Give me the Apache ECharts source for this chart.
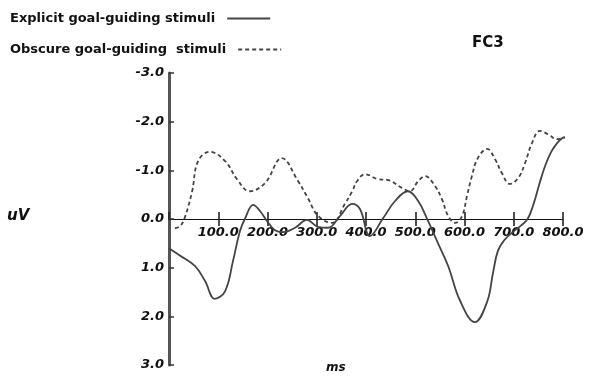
<!DOCTYPE html>
<html><head><meta charset="utf-8">
<script src="https://cdn.jsdelivr.net/npm/echarts@6/dist/echarts.min.js"></script>
<style>html,body{margin:0;padding:0;background:#fff}#c{width:591px;height:376px}</style>
</head><body><div id="c"></div>
<script>
const seriesNames = ['Explicit goal-guiding stimuli', 'Obscure goal-guiding  stimuli'];
const explicitTime  = [0, 22, 53, 73, 93, 114, 130, 144, 154, 171, 185, 199, 215, 231, 256, 280, 302, 323, 347, 372, 388, 408, 435, 459, 485, 506, 526, 544, 567, 591, 621, 646, 658, 668, 682, 698, 714, 728, 740, 752, 764, 776, 788, 798, 804];
const explicitValue = [0.6, 0.75, 0.97, 1.27, 1.64, 1.48, 0.86, 0.25, 0.0, -0.29, -0.16, 0.04, 0.23, 0.27, 0.18, 0.02, 0.16, 0.18, -0.06, -0.31, -0.2, 0.35, -0.02, -0.37, -0.57, -0.37, 0.04, 0.45, 0.97, 1.68, 2.12, 1.7, 1.1, 0.65, 0.42, 0.27, 0.14, 0.0, -0.3, -0.72, -1.1, -1.38, -1.56, -1.66, -1.68];
const obscureTime  = [12, 22, 31, 47, 59, 83, 114, 138, 164, 195, 229, 262, 282, 303, 331, 357, 372, 382, 398, 424, 445, 473, 489, 506, 520, 540, 554, 567, 581, 595, 605, 615, 627, 646, 662, 676, 692, 709, 723, 737, 753, 770, 788, 804];
const obscureValue = [0.19, 0.15, 0.0, -0.57, -1.19, -1.38, -1.19, -0.82, -0.57, -0.74, -1.25, -0.78, -0.43, -0.06, 0.08, -0.31, -0.57, -0.78, -0.92, -0.82, -0.8, -0.64, -0.57, -0.78, -0.88, -0.68, -0.41, -0.06, 0.08, -0.06, -0.47, -0.88, -1.25, -1.44, -1.23, -0.94, -0.72, -0.84, -1.15, -1.56, -1.81, -1.74, -1.64, -1.68];
const xTickMin = 0, xTickMax = 800, xTickStep = 100;
const yTickMin = -3, yTickMax = 3, yTickStep = 1;
const channelLabel = 'FC3', yName = 'uV', xName = 'ms';

const pair = (t, v) => t.map((x, i) => [x, v[i]]);
const lblFont = {fontFamily: 'DejaVu Sans', fontWeight: 'bold', fontStyle: 'italic', fontSize: 13, color: '#111'};
// full plotting grid; upper half (ends at value 0) and lower half (starts at value 0) carry the crossing x axis
const H = 376, gTop = 73, gBottom = 11, zeroY = gTop + (H - gTop - gBottom) / 2;
const gridFull  = {left: 169, right: 28, top: gTop, bottom: gBottom, containLabel: false, outerBoundsMode: 'none'};
const gridUpper = {left: 169, right: 28, top: gTop, bottom: H - zeroY, containLabel: false, outerBoundsMode: 'none'};
const gridLower = {left: 169, right: 28, top: zeroY, bottom: gBottom, containLabel: false, outerBoundsMode: 'none'};
const legendBase = {
  orient: 'horizontal', left: 10, align: 'right', padding: 0,
  itemWidth: 43, itemHeight: 14,
  itemStyle: {opacity: 0},
  textStyle: {fontFamily: 'DejaVu Sans', fontWeight: 'bold', fontSize: 13, color: '#111', padding: [0, 7, 0, 0]}
};
const hiddenY = (gi, mn, mx) => ({gridIndex: gi, type: 'value', inverse: true, min: mn, max: mx, show: false,
  axisLine: {show: false, onZero: false}, axisTick: {show: false}, axisLabel: {show: false}, splitLine: {show: false}});
const chart = echarts.init(document.getElementById('c'));
chart.setOption({
  animation: false,
  backgroundColor: '#fff',
  grid: [gridFull, gridUpper, gridLower],
  legend: [
    Object.assign({top: 12, data: [seriesNames[0]]}, legendBase),
    Object.assign({top: 43, data: [seriesNames[1]]}, legendBase)
  ],
  xAxis: [{
    gridIndex: 0, type: 'value', min: xTickMin, max: xTickMax, interval: xTickStep, show: false,
    axisLine: {show: false, onZero: false}, axisTick: {show: false}, axisLabel: {show: false}, splitLine: {show: false}
  }, {
    gridIndex: 1, type: 'value', min: xTickMin, max: xTickMax, interval: xTickStep, position: 'bottom',
    axisLine: {show: true, onZero: false, lineStyle: {color: '#111', width: 1.2}},
    axisTick: {show: true, inside: false, length: 7, lineStyle: {color: '#222', width: 1.6}},
    axisLabel: Object.assign({margin: 7, showMinLabel: false, formatter: v => v.toFixed(1)}, lblFont),
    splitLine: {show: false}
  }, {
    gridIndex: 2, type: 'value', min: xTickMin, max: xTickMax, interval: xTickStep, position: 'top',
    axisLine: {show: false, onZero: false},
    axisTick: {show: true, inside: false, length: 7, lineStyle: {color: '#222', width: 1.6}},
    axisLabel: {show: false}, splitLine: {show: false}
  }],
  yAxis: [{
    gridIndex: 0, type: 'value', inverse: true, min: yTickMin, max: yTickMax, interval: yTickStep,
    axisLine: {show: true, onZero: false, lineStyle: {color: '#555', width: 3}},
    axisTick: {show: true, inside: true, length: 5, lineStyle: {color: '#333', width: 1.5}},
    axisLabel: Object.assign({margin: 5, formatter: v => v.toFixed(1)}, lblFont),
    splitLine: {show: false}
  }, hiddenY(1, yTickMin, 0), hiddenY(2, 0, yTickMax)],
  series: [{
    name: seriesNames[0], type: 'line', smooth: 0.4, showSymbol: false, symbol: 'none',
    xAxisIndex: 0, yAxisIndex: 0,
    data: pair(explicitTime, explicitValue),
    lineStyle: {color: '#444', width: 1.8, type: 'solid'}, itemStyle: {color: '#444'}
  }, {
    name: seriesNames[1], type: 'line', smooth: 0.4, showSymbol: false, symbol: 'none',
    xAxisIndex: 0, yAxisIndex: 0,
    data: pair(obscureTime, obscureValue),
    lineStyle: {color: '#444', width: 1.8, type: [4, 3]}, itemStyle: {color: '#444'}
  }],
  graphic: [
    {type: 'text', left: 472, top: 36, style: {text: channelLabel, font: 'bold 15px "DejaVu Sans"', fill: '#111'}},
    {type: 'text', left: 7, top: 209, style: {text: yName, font: 'italic bold 15px "DejaVu Sans"', fill: '#111'}},
    {type: 'text', left: 326, top: 362, style: {text: xName, font: 'italic bold 12px "DejaVu Sans"', fill: '#111'}}
  ]
});
</script></body></html>
